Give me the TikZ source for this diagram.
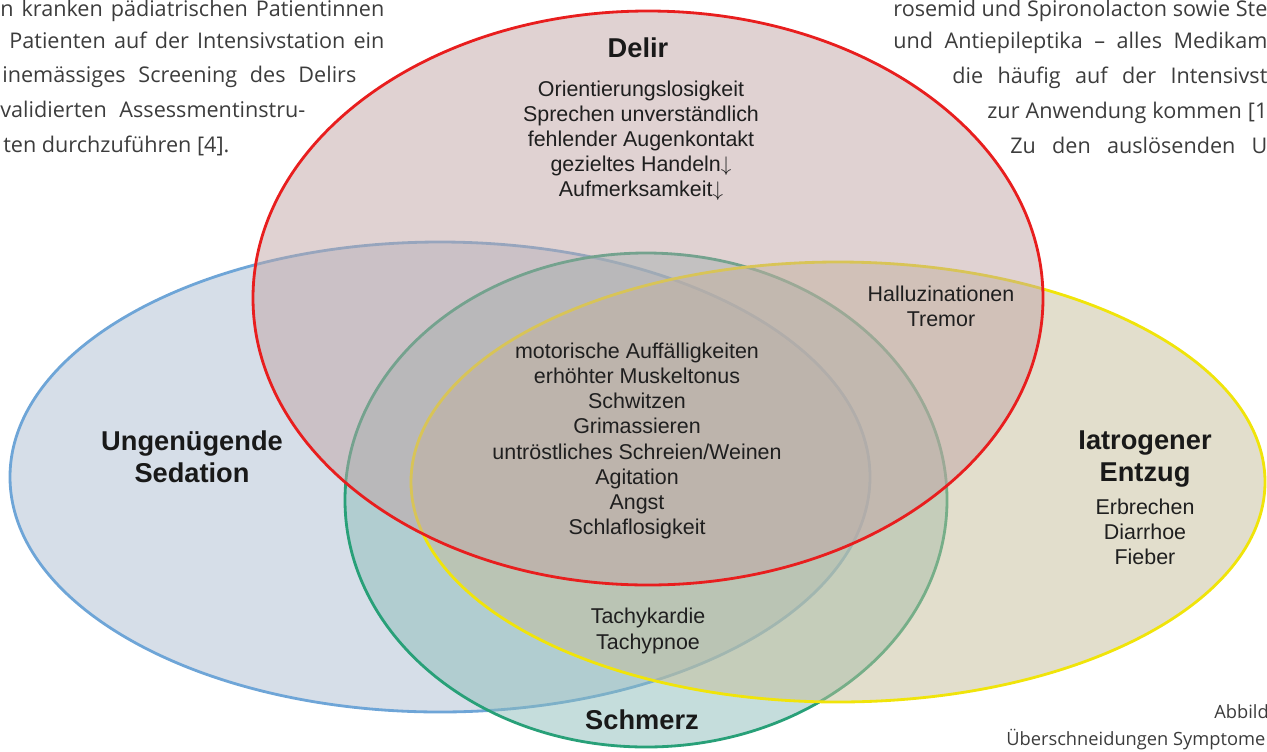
\documentclass[tikz,border=0pt]{standalone}
\usepackage{fontspec}
\setmainfont{Liberation Sans}
\newfontfamily\pagefont{Open Sans}
\usetikzlibrary{positioning}

\definecolor{delirline}{RGB}{232,30,30}
\definecolor{delirfill}{RGB}{193,165,165}
\definecolor{sedline}{RGB}{110,165,215}
\definecolor{sedfill}{RGB}{173,189,209}
\definecolor{painline}{RGB}{40,160,120}
\definecolor{painfill}{RGB}{140,188,186}
\definecolor{entzline}{RGB}{240,228,10}
\definecolor{entzfill}{RGB}{197,189,153}
\definecolor{pagetext}{RGB}{60,60,60}

\newlength\px
\setlength\px{0.02cm}

\begin{document}
\begin{tikzpicture}[x=0.02cm,y=-0.02cm,
  font=\fontsize{12.2}{14.3}\selectfont,
  set/.style={line width=1.6pt,fill opacity=0.5},
  title/.style={font=\bfseries\fontsize{15.5}{18.5}\selectfont,align=center,text=black!90},
  symptoms/.style={align=center,text=black!88},
  page/.style={font=\pagefont\fontsize{12.3}{13}\selectfont,text=pagetext,anchor=base west,inner sep=0pt},
  caption/.style={page,font=\pagefont\fontsize{10.4}{13}\selectfont}]
    \useasboundingbox (0,0) rectangle (1267,751);
    \clip (0,0) rectangle (1267,751);

    % Running text of the page around the figure
    \node[page] (l1) at (0,16) {\makebox[384\px][s]{n kranken pädiatrischen Patientinnen}};
    \node[page] (l2) at (9,48) {\makebox[375\px][s]{Patienten auf der Intensivstation ein}};
    \node[page] (l3) at (2,82) {\makebox[354\px][s]{inemässiges Screening des Delirs}};
    \node[page] (l4) at (0,117) {\makebox[305\px][s]{validierten Assessmentinstru-}};
    \node[page] (l5) at (3,152) {ten durchzuführen [4].};
    \node[page] (r1) at (893,16) {\makebox[374\px][s]{rosemid und Spironolacton sowie Ste}};
    \node[page] (r2) at (893,48) {\makebox[374\px][s]{und Antiepileptika – alles Medikam}};
    \node[page] (r3) at (952,83) {\makebox[315\px][s]{die häufig auf der Intensivst}};
    \node[page] (r4) at (987,118) {\makebox[280\px][s]{zur Anwendung kommen [1}};
    \node[page] (r5) at (1010,153) {\makebox[257\px][s]{Zu den auslösenden U}};
    \node[caption] (cap1) at (1214,718) {Abbild};
    \node[caption] (cap2) at (1006,745) {Überschneidungen Symptome};

    % Draw the four sets
    \draw[set,draw=sedline,fill=sedfill] (440,477) ellipse [x radius=430,y radius=235];
    \draw[set,draw=painline,fill=painfill] (646,500) ellipse [x radius=301,y radius=247];
    \draw[set,draw=entzline,fill=entzfill] (838,482) ellipse [x radius=427,y radius=220];
    \draw[set,draw=delirline,fill=delirfill] (648,298) ellipse [x radius=395,y radius=287];

    % Labels
    \node[title] (delir) at (638,48) {Delir};
    \node[symptoms] (delirlist) at (641,141) {Orientierungslosigkeit\\Sprechen unverständlich\\fehlender Augenkontakt\\gezieltes Handeln$\downarrow$\\Aufmerksamkeit$\downarrow$};
    \node[symptoms] (halluz) at (941,306) {Halluzinationen\\Tremor};
    \node[symptoms] (common) at (637,441) {motorische Auffälligkeiten\\erhöhter Muskeltonus\\Schwitzen\\Grimassieren\\untröstliches Schreien/Weinen\\Agitation\\Angst\\Schlaflosigkeit};
    \node[title] (sedation) at (192,457) {Ungenügende\\Sedation};
    \node[title] (entzug) at (1145,459) {Iatrogener\\Entzug};
    \node[symptoms] (entzuglist) at (1145,532) {Erbrechen\\Diarrhoe\\Fieber};
    \node[symptoms] (tachy) at (648,631) {Tachykardie\\Tachypnoe};
    \node[title] (schmerz) at (642,720) {Schmerz};

\end{tikzpicture}
\end{document}
